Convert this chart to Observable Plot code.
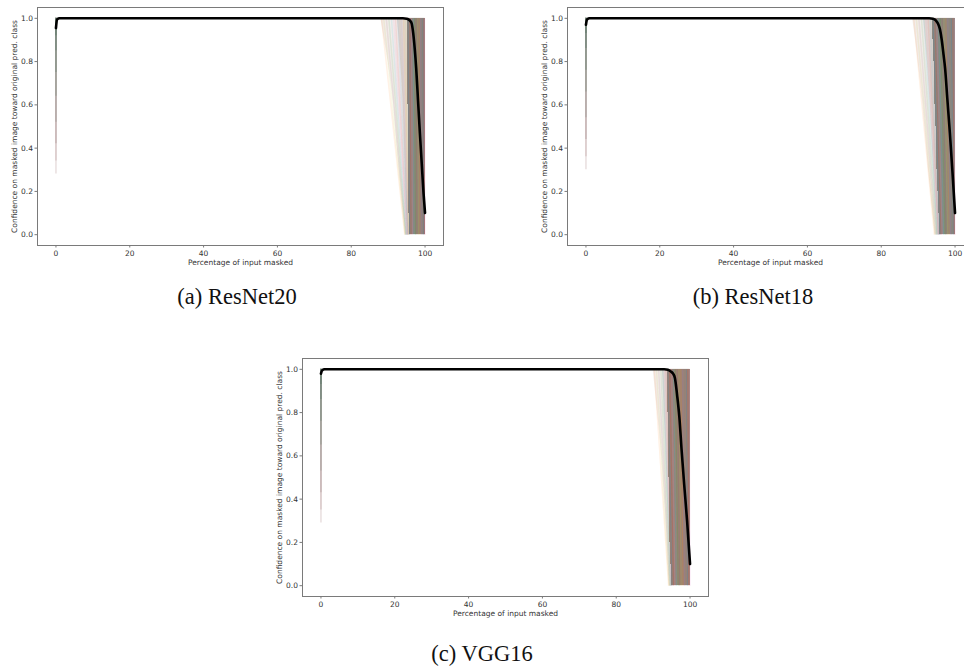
<!DOCTYPE html>
<html>
<head>
<meta charset="utf-8">
<script src="https://cdn.jsdelivr.net/npm/d3@7"></script>
<script src="https://cdn.jsdelivr.net/npm/@observablehq/plot@0.6"></script>
<style>
  html, body { margin: 0; padding: 0; background: #fff; overflow: hidden; }
  #page { position: relative; width: 964px; height: 667px; overflow: hidden; background: #fff; }
  .panel { position: absolute; }
  .cap { position: absolute; font-family: "Liberation Serif", "Times New Roman", serif; font-size: 22.5px; color: #111; white-space: nowrap; transform: translate(-50%, -50%); }
</style>
</head>
<body>
<div id="page"></div>
<script>
// ---- shared labels / ticks ----
const xLabel = "Percentage of input masked";
const yLabel = "Confidence on masked image toward original pred. class";
const captions = ["(a) ResNet20", "(b) ResNet18", "(c) VGG16"];
const xTicks = [0, 20, 40, 60, 80, 100];
const yTicks = [0.0, 0.2, 0.4, 0.6, 0.8, 1.0];

// ---- band of per-image traces: left edges (x) at each confidence level ----
const bandY = [1.0, 0.9, 0.8, 0.7, 0.6, 0.5, 0.4, 0.3, 0.2, 0.1, 0.0];

// (a) ResNet20
const fringeA = [88.0, 89.0, 90.0, 90.8, 91.5, 92.0, 92.5, 93.0, 93.6, 94.2, 94.9];
const midA    = [92.5, 93.0, 93.4, 93.8, 94.1, 94.3, 94.5, 94.7, 94.9, 95.1, 95.4];
const coreA   = [95.2, 95.2, 95.3, 95.3, 95.4, 95.4, 95.5, 95.5, 95.6, 95.6, 95.8];
const stripeTopA    = [95.4, 95.9, 96.3, 96.8, 97.2, 97.6, 98.0, 98.4, 98.8, 99.1, 99.4, 99.7, 99.9];
const stripeBottomA = [95.8, 96.2, 96.6, 97.0, 97.4, 97.8, 98.2, 98.6, 99.0, 99.3, 99.6, 99.8, 100];
const faintTopA     = [88.2, 88.8, 89.5, 90.2, 90.9, 91.5, 92.0, 92.6, 93.1, 93.6, 94.2, 94.7];
const faintBottomA  = [94.5, 94.6, 94.7, 94.8, 94.9, 95.0, 95.1, 95.2, 95.3, 95.4, 95.5, 95.6];
const spikeLowA = [0.28, 0.34, 0.42, 0.52, 0.64, 0.75, 0.85, 0.92];
const meanXA = [0, 0.3, 1, 94, 95, 95.5, 96, 96.4, 96.8, 97.2, 97.6, 98.1, 98.6, 99.1, 99.6, 100];
const meanYA = [0.955, 0.995, 1, 1, 0.998, 0.995, 0.988, 0.975, 0.93, 0.86, 0.77, 0.62, 0.47, 0.33, 0.19, 0.1];

// (b) ResNet18
const fringeB = [88.5, 89.3, 90.0, 90.7, 91.3, 91.8, 92.3, 92.8, 93.4, 94.0, 94.6];
const midB    = [91.5, 92.0, 92.5, 92.9, 93.3, 93.6, 93.9, 94.2, 94.5, 94.8, 95.1];
const coreB   = [93.8, 94.0, 94.2, 94.4, 94.6, 94.8, 95.0, 95.2, 95.4, 95.6, 95.9];
const stripeTopB    = [94.0, 94.5, 95.0, 95.5, 96.0, 96.5, 97.0, 97.5, 98.0, 98.5, 99.0, 99.4, 99.8];
const stripeBottomB = [95.9, 96.2, 96.5, 96.9, 97.3, 97.6, 98.0, 98.4, 98.8, 99.1, 99.5, 99.8, 100];
const faintTopB     = [88.8, 89.5, 90.2, 90.9, 91.5, 92.1, 92.7, 93.2, 93.6];
const faintBottomB  = [94.4, 94.6, 94.8, 95.0, 95.2, 95.4, 95.5, 95.6, 95.8];
const spikeLowB = [0.30, 0.36, 0.44, 0.54, 0.66, 0.76, 0.86, 0.93];
const meanXB = [0, 0.3, 1, 93, 94, 94.8, 95.4, 95.9, 96.4, 96.9, 97.3, 97.9, 98.6, 99.3, 100];
const meanYB = [0.97, 0.995, 1, 1, 0.998, 0.99, 0.975, 0.95, 0.9, 0.83, 0.77, 0.63, 0.47, 0.29, 0.1];

// (c) VGG16
const fringeC = [90.0, 90.6, 91.2, 91.8, 92.3, 92.7, 93.1, 93.5, 93.8, 94.1, 94.4];
const midC    = [92.5, 92.8, 93.0, 93.3, 93.5, 93.7, 93.9, 94.1, 94.3, 94.5, 94.8];
const coreC   = [93.8, 93.9, 94.0, 94.1, 94.2, 94.3, 94.4, 94.5, 94.6, 94.8, 95.0];
const stripeTopC    = [94.0, 94.5, 95.0, 95.5, 96.0, 96.5, 97.0, 97.5, 98.0, 98.5, 99.0, 99.4, 99.8];
const stripeBottomC = [95.1, 95.5, 95.9, 96.3, 96.8, 97.2, 97.6, 98.1, 98.5, 98.9, 99.3, 99.7, 100];
const faintTopC     = [90.3, 90.9, 91.5, 92.1, 92.6, 93.1, 93.5];
const faintBottomC  = [94.2, 94.3, 94.5, 94.6, 94.8, 94.9, 95.0];
const spikeLowC = [0.29, 0.35, 0.43, 0.53, 0.65, 0.76, 0.86, 0.93];
const meanXC = [0, 0.3, 1, 93, 94, 94.8, 95.4, 95.9, 96.5, 97.1, 97.7, 98.4, 99.2, 100];
const meanYC = [0.98, 0.995, 1, 1, 0.998, 0.99, 0.98, 0.96, 0.88, 0.78, 0.63, 0.47, 0.3, 0.1];

// ---- styling ----
const tab10 = ["#1f77b4", "#ff7f0e", "#2ca02c", "#d62728", "#9467bd", "#8c564b", "#e377c2", "#7f7f7f", "#bcbd22", "#17becf"];
const spikeColors = ["#d0b8b8", "#c4aaaa", "#b09c9c", "#9a9a94", "#869486", "#74887a", "#667e70", "#5a7566"];

const panels = [
  {left: 0,   top: 0,   fringe: fringeA, mid: midA, core: coreA, coreFill: "#8e8176",
   sTop: stripeTopA, sBot: stripeBottomA, fTop: faintTopA, fBot: faintBottomA, spike: spikeLowA, mx: meanXA, my: meanYA,
   cap: captions[0], capX: 237, capY: 297},
  {left: 530, top: 0,   fringe: fringeB, mid: midB, core: coreB, coreFill: "#8b857a",
   sTop: stripeTopB, sBot: stripeBottomB, fTop: faintTopB, fBot: faintBottomB, spike: spikeLowB, mx: meanXB, my: meanYB,
   cap: captions[1], capX: 753, capY: 297},
  {left: 265, top: 351, fringe: fringeC, mid: midC, core: coreC, coreFill: "#978072",
   sTop: stripeTopC, sBot: stripeBottomC, fTop: faintTopC, fBot: faintBottomC, spike: spikeLowC, mx: meanXC, my: meanYC,
   cap: captions[2], capX: 482, capY: 654}
];

const page = document.getElementById("page");

// core band slices between consecutive confidence levels (left edge = mean of the two read edges)
function slices(left) {
  const out = [];
  for (let i = 0; i < bandY.length - 1; i++) {
    out.push({y2: bandY[i], y1: bandY[i + 1], x1: (left[i] + left[i + 1]) / 2, x2: 100});
  }
  return out;
}

function makePanel(p) {
  const band = bandY.map((y, i) => ({y, fringe: p.fringe[i], mid: p.mid[i], edge: 100}));
  const stripes = p.sTop.map((t, i) => ({x1: t, x2: p.sBot[i], c: tab10[(i * 3) % 10]}));
  const faint = p.fTop.map((t, i) => ({x1: t, x2: p.fBot[i], c: tab10[(i * 7 + 1) % 10]}));
  const spikes = p.spike.map((v, i) => ({x: 0, y1: v, y2: 1, c: spikeColors[i]}));
  const mean = p.mx.map((x, i) => ({x, y: p.my[i]}));

  return Plot.plot({
    width: 460, height: 275,
    marginLeft: 37, marginRight: 17, marginTop: 7, marginBottom: 30,
    x: {domain: [-5, 105]},
    y: {domain: [-0.05, 1.05]},
    style: {fontFamily: "DejaVu Sans", fontSize: "7.5px", color: "#333", background: "transparent", overflow: "visible"},
    marks: [
      Plot.area(band, {x1: "fringe", x2: "edge", y1: "y", fill: "#eee6e2", fillOpacity: 0.7}),
      Plot.area(band, {x1: "mid", x2: "edge", y1: "y", fill: "#d8cec8", fillOpacity: 0.7}),
      Plot.link(faint, {x1: "x1", y1: () => 1, x2: "x2", y2: () => 0, stroke: d => d.c, strokeOpacity: 0.1, strokeWidth: 1.5}),
      Plot.rect(slices(p.core), {x1: "x1", x2: "x2", y1: "y1", y2: "y2", inset: 0, shapeRendering: "crispEdges", fill: p.coreFill, fillOpacity: 0.95}),
      Plot.link(stripes, {x1: "x1", y1: () => 1, x2: "x2", y2: () => 0, stroke: d => d.c, strokeOpacity: 0.2, strokeWidth: 1.1}),
      Plot.ruleX(spikes, {x: "x", y1: "y1", y2: "y2", stroke: d => d.c, strokeOpacity: 0.4, strokeWidth: 1.8}),
      Plot.line(mean, {x: "x", y: "y", stroke: "#000", strokeWidth: 2.6, curve: "monotone-x"}),
      Plot.frame({stroke: "#7a7a7a", strokeWidth: 1}),
      Plot.axisX({ticks: xTicks, tickSize: 2.5, tickPadding: 2.5, label: null, stroke: "#7a7a7a", fill: "#333"}),
      Plot.axisY({ticks: yTicks, tickFormat: ".1f", tickSize: 2.5, tickPadding: 2, label: null, stroke: "#7a7a7a", fill: "#333"}),
      Plot.text([xLabel], {frameAnchor: "bottom", dy: 19, text: d => d, fill: "#333", fontSize: 7.5, textAnchor: "middle"}),
      Plot.text([yLabel], {frameAnchor: "left", dx: -23, rotate: -90, text: d => d, fill: "#333", fontSize: 7.5, textAnchor: "middle"})
    ]
  });
}

panels.forEach(p => {
  const el = makePanel(p);
  el.classList.add("panel");
  el.style.left = p.left + "px";
  el.style.top = p.top + "px";
  page.appendChild(el);
  const cap = document.createElement("div");
  cap.className = "cap";
  cap.textContent = p.cap;
  cap.style.left = p.capX + "px";
  cap.style.top = p.capY + "px";
  page.appendChild(cap);
});
</script>
</body>
</html>
